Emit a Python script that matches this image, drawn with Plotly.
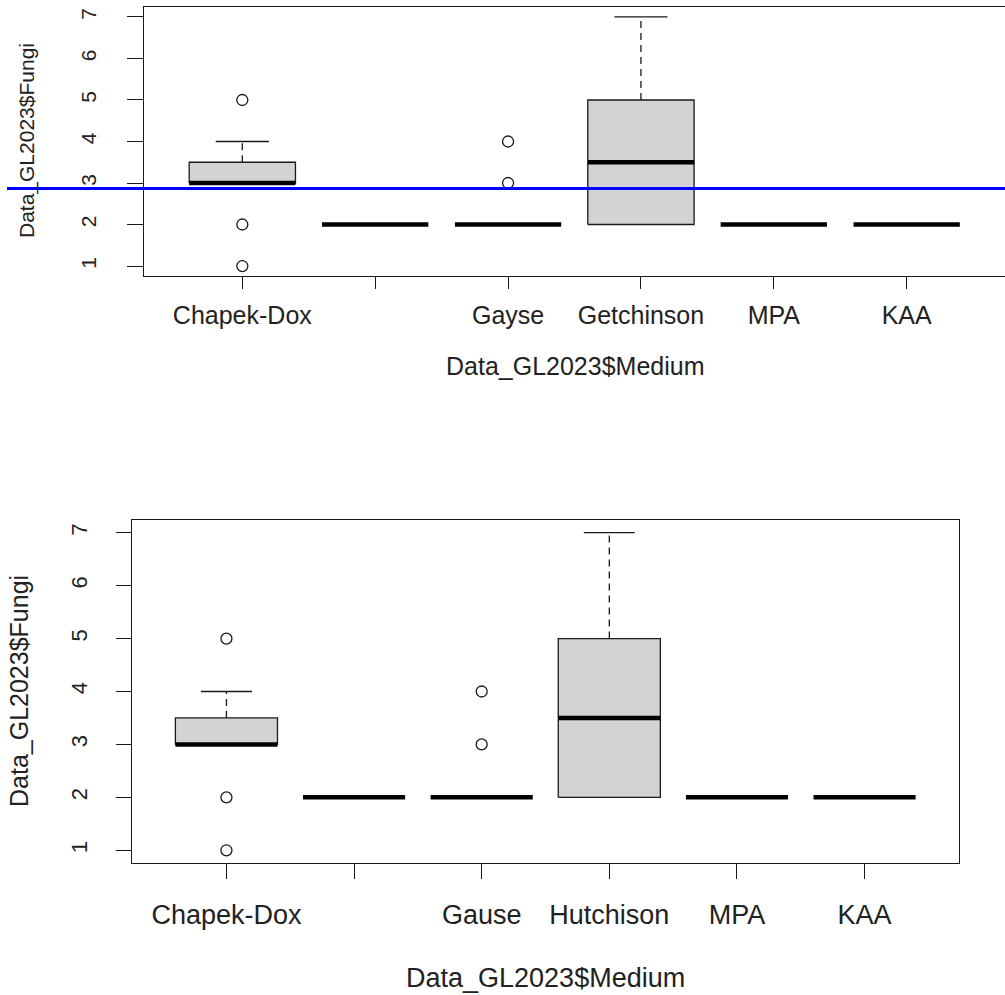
import plotly.graph_objects as go

# ---------------- data ----------------
positions = [1, 2, 3, 4, 5, 6]
labels_top = ["Chapek-Dox", "", "Gayse", "Getchinson", "MPA", "KAA"]
labels_bottom = ["Chapek-Dox", "", "Gause", "Hutchison", "MPA", "KAA"]

q1 = [3, 2, 2, 2, 2, 2]
median = [3, 2, 2, 3.5, 2, 2]
q3 = [3.5, 2, 2, 5, 2, 2]
whisker_low = [3, 2, 2, 2, 2, 2]
whisker_high = [4, 2, 2, 7, 2, 2]

outlier_pos = [1, 1, 1, 3, 3]
outlier_val = [5, 2, 1, 4, 3]

mean_line_top = 2.87

y_title = "Data_GL2023$Fungi"
x_title = "Data_GL2023$Medium"

# ---------------- layout geometry (pixels) ----------------
W, H = 1005, 995
FONT = "Liberation Sans, Arial, sans-serif"
HALF = 0.4      # half box width (boxwex 0.8)
CAP = 0.2       # half staple width


def px_x(p):
    return p / W


def px_y(p):
    return 1 - p / H


fig = go.Figure()


def add_boxes(xa, ya):
    # boxes (filled rectangles)
    bx, by = [], []
    for p, a, b in zip(positions, q1, q3):
        if b > a:
            bx += [p - HALF, p + HALF, p + HALF, p - HALF, p - HALF, None]
            by += [a, a, b, b, a, None]
    fig.add_trace(go.Scatter(x=bx, y=by, mode="lines", fill="toself",
                             fillcolor="#d3d3d3",
                             line=dict(color="#1a1a1a", width=1.3),
                             xaxis=xa, yaxis=ya, hoverinfo="skip",
                             showlegend=False))
    # whiskers (dashed)
    wx, wy = [], []
    for p, a, b, lo, hi in zip(positions, q1, q3, whisker_low, whisker_high):
        if hi > b:
            wx += [p, p, None]
            wy += [b, hi, None]
        if lo < a:
            wx += [p, p, None]
            wy += [a, lo, None]
    fig.add_trace(go.Scatter(x=wx, y=wy, mode="lines",
                             line=dict(color="#1a1a1a", width=1.3, dash="7px,5px"),
                             xaxis=xa, yaxis=ya, hoverinfo="skip",
                             showlegend=False))
    # staples
    sx, sy = [], []
    for p, a, b, lo, hi in zip(positions, q1, q3, whisker_low, whisker_high):
        if hi > b:
            sx += [p - CAP, p + CAP, None]
            sy += [hi, hi, None]
        if lo < a:
            sx += [p - CAP, p + CAP, None]
            sy += [lo, lo, None]
    fig.add_trace(go.Scatter(x=sx, y=sy, mode="lines",
                             line=dict(color="#1a1a1a", width=1.3),
                             xaxis=xa, yaxis=ya, hoverinfo="skip",
                             showlegend=False))
    # medians (thick)
    mx, my = [], []
    for p, m in zip(positions, median):
        mx += [p - HALF, p + HALF, None]
        my += [m, m, None]
    fig.add_trace(go.Scatter(x=mx, y=my, mode="lines",
                             line=dict(color="black", width=4.5),
                             xaxis=xa, yaxis=ya, hoverinfo="skip",
                             showlegend=False))
    # outliers
    fig.add_trace(go.Scatter(x=outlier_pos, y=outlier_val, mode="markers",
                             marker=dict(symbol="circle-open", size=11,
                                         color="#1a1a1a",
                                         line=dict(width=1.3, color="#1a1a1a")),
                             xaxis=xa, yaxis=ya, hoverinfo="skip",
                             showlegend=False))


add_boxes("x", "y")
add_boxes("x2", "y2")

axis_common = dict(showgrid=False, zeroline=False, showline=True,
                   linecolor="#1a1a1a", linewidth=1.3, ticks="outside",
                   tickcolor="#1a1a1a", tickwidth=1.3)

# top panel: plot area x 144..1004, y 7..276
fig.update_layout(
    xaxis=dict(axis_common, domain=[px_x(144), 1.0], range=[0.26, 6.74],
               tickmode="array", tickvals=positions, ticktext=labels_top,
               ticklen=12, mirror=True, anchor="y",
               tickfont=dict(family=FONT, size=25, color="#222222"),
               ticklabelstandoff=5),
    yaxis=dict(axis_common, domain=[px_y(276), px_y(7)], range=[0.76, 7.24],
               tickmode="array", tickvals=[1, 2, 3, 4, 5, 6, 7],
               ticklen=16, tickangle=-90, anchor="x",
               tickfont=dict(family=FONT, size=21, color="#222222"),
               ticklabelstandoff=22),
    # bottom panel: plot area x 132..959, y 520..863
    xaxis2=dict(axis_common, domain=[px_x(132), px_x(959)], range=[0.26, 6.74],
                tickmode="array", tickvals=positions, ticktext=labels_bottom,
                ticklen=15, mirror=True, anchor="y2",
                tickfont=dict(family=FONT, size=27, color="#222222"),
                ticklabelstandoff=12),
    yaxis2=dict(axis_common, domain=[px_y(863), px_y(520)], range=[0.76, 7.24],
                tickmode="array", tickvals=[1, 2, 3, 4, 5, 6, 7],
                ticklen=15, tickangle=-90, anchor="x2", mirror=True,
                tickfont=dict(family=FONT, size=22, color="#222222"),
                ticklabelstandoff=20),
)

annotations = [
    dict(text=y_title, x=px_x(27), y=px_y(141), xref="paper", yref="paper",
         textangle=-90, showarrow=False, xanchor="center", yanchor="middle",
         font=dict(family=FONT, size=21, color="#222222")),
    dict(text=x_title, x=px_x(575), y=px_y(366), xref="paper", yref="paper",
         showarrow=False, xanchor="center", yanchor="middle",
         font=dict(family=FONT, size=25, color="#222222")),
    dict(text=y_title, x=px_x(19), y=px_y(691), xref="paper", yref="paper",
         textangle=-90, showarrow=False, xanchor="center", yanchor="middle",
         font=dict(family=FONT, size=25, color="#222222")),
    dict(text=x_title, x=px_x(545), y=px_y(978), xref="paper", yref="paper",
         showarrow=False, xanchor="center", yanchor="middle",
         font=dict(family=FONT, size=27, color="#222222")),
]

shapes = [
    dict(type="line", xref="paper", yref="y", x0=px_x(7), x1=1.0,
         y0=mean_line_top, y1=mean_line_top,
         line=dict(color="#0000ff", width=3)),
]

fig.update_layout(
    width=W, height=H, autosize=False,
    margin=dict(l=0, r=0, t=0, b=0, pad=0),
    paper_bgcolor="white", plot_bgcolor="white",
    showlegend=False,
    annotations=annotations, shapes=shapes,
)

fig.write_html("out.html", config={"displayModeBar": False},
               post_script="document.body.style.margin='0px';document.body.style.overflow='hidden';")
